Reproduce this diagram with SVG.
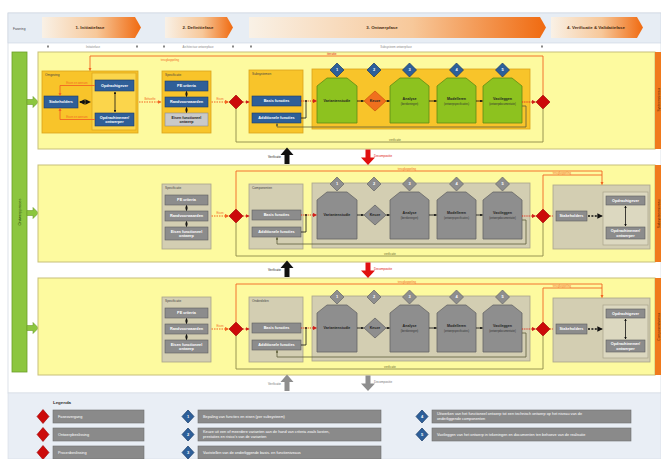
<svg xmlns="http://www.w3.org/2000/svg" width="661" height="459" viewBox="0 0 661 459">
<style>
text{font-family:"Liberation Sans",Arial,sans-serif}
.lane{fill:#fdfa9f;stroke:#c7c07a;stroke-width:1}
.obar{fill:#f07a1c}
.grp{fill:#f8c42a;stroke:#d9a31c;stroke-width:0.8}
.sub{fill:#fbd54b;stroke:#d9a31c;stroke-width:0.7}
.grpg{fill:#d3ceb2;stroke:#a9a48a;stroke-width:0.8}
.subg{fill:#dcd8c0;stroke:#a9a48a;stroke-width:0.7}
.blue{fill:#2f5f98;stroke:#1d3d6a;stroke-width:0.6}
.gbox{fill:#8c8c8c;stroke:#5e5e5e;stroke-width:0.6}
.lbox{fill:#c9c9c9;stroke:#8a8a8a;stroke-width:0.6}
.green{fill:#8dc21f;stroke:#5e8c14;stroke-width:0.8}
.gshape{fill:#8e8e8e;stroke:#666;stroke-width:0.8}
.bd{fill:#2d5f9a;stroke:#173a66;stroke-width:0.7}
.gd{fill:#8e8e8e;stroke:#666;stroke-width:0.7}
.od2{fill:#f0701e;stroke:#c8540c;stroke-width:0.7}
.rd{fill:#cc0a0a;stroke:#9a0000;stroke-width:0.6}
.tw{fill:#fff;font-size:3.8px;font-weight:bold;text-anchor:middle}
.tk{fill:#222;font-size:3.6px;font-weight:bold;text-anchor:middle}
.ts{fill:#333;font-size:2.6px;text-anchor:middle}
.tg{fill:#444;font-size:3.2px}
.tn{fill:#fff;font-size:4px;font-weight:bold;text-anchor:middle}
.to{fill:#f26522;font-size:2.8px;text-anchor:middle}
.tr{fill:#e02020;font-size:3.2px}
.ol{stroke:#f26522;fill:none;stroke-width:0.9}
.od{stroke:#f26522;stroke-dasharray:1.5 1;fill:none;stroke-width:1.2}
.rdot{stroke:#e02a1a;stroke-dasharray:1.2 1;stroke-width:1.2;fill:none}
.blk{stroke:#111;stroke-width:0.8;fill:none}
.bdash{stroke:#111;stroke-width:1.6;stroke-dasharray:2 1.4;fill:none}
.olv{stroke:#8c8a4a;stroke-width:0.9;fill:none}
.fb{stroke:#5e5e3a;stroke-width:0.8;fill:none}
.leg{fill:#8a8a8a;stroke:#6e6e6e;stroke-width:0.6}
.tl{fill:#fff;font-size:3.8px}
</style>
<defs>
<linearGradient id="phase" x1="0" x2="1" y1="0" y2="0">
<stop offset="0" stop-color="#f9f1e6"/>
<stop offset="0.55" stop-color="#f7c89a"/>
<stop offset="1" stop-color="#f06a10"/>
</linearGradient>
<marker id="ab" viewBox="0 0 6 6" refX="5" refY="3" markerWidth="3.5" markerHeight="3.5" orient="auto-start-reverse"><path d="M0,0 L6,3 L0,6 z" fill="#111"/></marker>
<marker id="ao" viewBox="0 0 6 6" refX="5" refY="3" markerWidth="3.5" markerHeight="3.5" orient="auto"><path d="M0,0 L6,3 L0,6 z" fill="#f26522"/></marker>
<marker id="ar" viewBox="0 0 6 6" refX="5" refY="3" markerWidth="3.5" markerHeight="3.5" orient="auto"><path d="M0,0 L6,3 L0,6 z" fill="#d0201a"/></marker>
<marker id="af" viewBox="0 0 6 6" refX="5" refY="3" markerWidth="3.5" markerHeight="3.5" orient="auto"><path d="M0,0 L6,3 L0,6 z" fill="#5e5e3a"/></marker>
</defs>

<!-- background frames -->
<rect x="8" y="13" width="653" height="380" fill="#ffffff" stroke="#d5dbe3" stroke-width="0.8"/>
<g id="header">
<rect x="8" y="13" width="653" height="30" fill="#e7edf4" stroke="#c9d3df" stroke-width="0.6"/>
<text x="13" y="29.5" class="tg" fill="#888">Fasering</text>
<g id="phase1"><path d="M42,17 H135 L141,27.5 L135,38 H42 Z" fill="url(#phase)"/><text x="90" y="29" fill="#4a2a10" font-size="4.4" font-weight="bold" text-anchor="middle">1. Initiatiefase</text></g>
<g id="phase2"><path d="M165,17 H227 L233,27.5 L227,38 H165 Z" fill="url(#phase)"/><text x="198" y="29" fill="#4a2a10" font-size="4.4" font-weight="bold" text-anchor="middle">2. Definitiefase</text></g>
<g id="phase3"><path d="M249,17 H540 L546,27.5 L540,38 H249 Z" fill="url(#phase)"/><text x="382" y="29" fill="#4a2a10" font-size="4.4" font-weight="bold" text-anchor="middle">3. Ontwerpfase</text></g>
<g id="phase4"><path d="M551,17 H637 L643,27.5 L637,38 H551 Z" fill="url(#phase)"/><text x="596" y="29" fill="#4a2a10" font-size="4.4" font-weight="bold" text-anchor="middle">4. Verificatie &amp; Validatiefase</text></g>
<g fill="#888">
<rect x="47" y="45.5" width="2" height="2"/><rect x="136" y="45.5" width="2" height="2"/>
<rect x="163" y="45.5" width="2" height="2"/><rect x="232" y="45.5" width="2" height="2"/>
<rect x="250" y="45.5" width="2" height="2"/><rect x="541" y="45.5" width="2" height="2"/>
</g>
<text x="93" y="47.5" fill="#888" font-size="2.8" text-anchor="middle">Initiatiefase</text>
<text x="198" y="47.5" fill="#888" font-size="2.8" text-anchor="middle">Architectuur ontwerpfase</text>
<text x="396" y="47.5" fill="#888" font-size="2.8" text-anchor="middle">Subsysteem ontwerpfase</text>
</g>

<!-- green bar -->
<g id="procesbalk">
<rect x="12" y="52" width="15" height="320" fill="#8cc63f" stroke="#6c9e2a" stroke-width="0.8"/>
<text transform="translate(21.3,212) rotate(-90)" fill="#2d4a10" font-size="4" text-anchor="middle">Ontwerpproces</text>
<path d="M27,99.5 H33 V96.5 L38.5,102 L33,107.5 V104.5 H27 Z" fill="#8cc63f" stroke="#6c9e2a" stroke-width="0.6"/>
<path d="M27,210.5 H33 V207.5 L38.5,213 L33,218.5 V215.5 H27 Z" fill="#8cc63f" stroke="#6c9e2a" stroke-width="0.6"/>
<path d="M27,325.5 H33 V322.5 L38.5,328 L33,333.5 V330.5 H27 Z" fill="#8cc63f" stroke="#6c9e2a" stroke-width="0.6"/>
</g>

<!-- lanes -->
<g id="lane1"><rect class="lane" x="38" y="52" width="617" height="97"/><rect class="obar" x="655" y="52" width="8" height="97"/><text transform="translate(660,100) rotate(-90)" fill="#5a2a00" font-size="3.4" text-anchor="middle">Systeemniveau</text></g>
<g id="lane2"><rect class="lane" x="38" y="165" width="617" height="97"/><rect class="obar" x="655" y="165" width="8" height="97"/><text transform="translate(660,214) rotate(-90)" fill="#5a2a00" font-size="3.4" text-anchor="middle">Subsysteemniveau</text></g>
<g id="lane3"><rect class="lane" x="38" y="278" width="617" height="97"/><rect class="obar" x="655" y="278" width="8" height="97"/><text transform="translate(660,327) rotate(-90)" fill="#5a2a00" font-size="3.4" text-anchor="middle">Componentniveau</text></g>

<!-- ========== LANE 1 nodes ========== -->
<g id="l1-omgeving"><rect class="grp" x="42" y="71" width="96" height="62"/><text x="45" y="75.5" class="tg" font-size="2.8">Omgeving</text><rect class="sub" x="92" y="73" width="44" height="57"/></g>
<g id="l1-stakeholders"><rect class="blue" x="44" y="96" width="34" height="12"/><text x="61" y="103.4" class="tw">Stakeholders</text></g>
<g id="l1-opdrachtgever"><rect class="blue" x="95" y="80" width="39" height="11"/><text x="114.5" y="86.8" class="tw">Opdrachtgever</text></g>
<g id="l1-opdrachtnemer"><rect class="blue" x="95" y="113" width="39" height="13"/><text x="114.5" y="118.6" class="tw">Opdrachtnemer/</text><text x="114.5" y="123.4" class="tw">ontwerper</text></g>
<g id="l1-specificatie"><rect class="grp" x="162" y="71" width="49" height="62"/><text x="165" y="75.5" class="tg" font-size="2.8">Specificatie</text>
<rect class="blue" x="165" y="81" width="43" height="10"/><text x="186.5" y="87.3" class="tw">PE criteria</text>
<rect class="blue" x="165" y="97" width="43" height="10"/><text x="186.5" y="103.3" class="tw">Randvoorwaarden</text>
<rect class="lbox" x="165" y="113" width="43" height="13"/><text x="186.5" y="118.6" class="tk" font-weight="normal" font-size="3.2">Eisen functioneel</text><text x="186.5" y="123.2" class="tk" font-weight="normal" font-size="3.2">ontwerp</text></g>
<g id="l1-beslis1"><path class="rd" d="M236,95 L243,102 L236,109 L229,102 Z"/></g>
<g id="l1-ontwerp"><rect class="grp" x="249" y="70" width="54" height="63"/><text x="252" y="74.5" class="tg" font-size="2.8">Subsystemen</text>
<rect class="blue" x="252" y="96" width="49" height="10"/><text x="276.5" y="102.3" class="tw">Basis functies</text>
<rect class="blue" x="252" y="113" width="49" height="10"/><text x="276.5" y="119.3" class="tw">Additionele functies</text></g>
<g id="l1-proces"><rect class="grp" x="312" y="69" width="218" height="60"/>
<path class="green" d="M317,86 L327,78 H347 L357,86 V123 H317 Z"/><text x="337" y="102.3" class="tk">Variantenstudie</text>
<path class="od2" d="M375,91 L386,101 L375,111 L364,101 Z"/><text x="375" y="102.2" class="tk" font-size="3">Keuze</text>
<path class="green" d="M390,86 L400,78 H419 L429,86 V123 H390 Z"/><text x="409.5" y="100" class="tk">Analyse</text><text x="409.5" y="104.5" class="ts">(berekeningen)</text>
<path class="green" d="M437,86 L447,78 H466 L476,86 V123 H437 Z"/><text x="456.5" y="100" class="tk">Modelleren</text><text x="456.5" y="104.5" class="ts">(ontwerpspecificaties)</text>
<path class="green" d="M483,86 L493,78 H512 L522,86 V123 H483 Z"/><text x="502.5" y="100" class="tk">Vastleggen</text><text x="502.5" y="104.5" class="ts">(ontwerpdocumentatie)</text>
<path class="bd" d="M337,63 L344,70 L337,77 L330,70 Z"/><text x="337" y="71.4" class="tn">1</text>
<path class="bd" d="M374,63 L381,70 L374,77 L367,70 Z"/><text x="374" y="71.4" class="tn">2</text>
<path class="bd" d="M409.5,63 L416.5,70 L409.5,77 L402.5,70 Z"/><text x="409.5" y="71.4" class="tn">3</text>
<path class="bd" d="M456.5,63 L463.5,70 L456.5,77 L449.5,70 Z"/><text x="456.5" y="71.4" class="tn">4</text>
<path class="bd" d="M502.5,63 L509.5,70 L502.5,77 L495.5,70 Z"/><text x="502.5" y="71.4" class="tn">5</text>
</g>
<g id="l1-beslis2"><path class="rd" d="M543,95 L550,102 L543,109 L536,102 Z"/></g>

<!-- ========== LANE 2 nodes ========== -->
<g transform="translate(0,114)">
<g id="l2-specificatie"><rect class="grpg" x="162" y="70" width="49" height="65"/><text x="165" y="74.5" class="tg" font-size="2.8">Specificatie</text>
<rect class="gbox" x="165" y="81" width="43" height="10"/><text x="186.5" y="87.3" class="tw">PE criteria</text>
<rect class="gbox" x="165" y="97" width="43" height="10"/><text x="186.5" y="103.3" class="tw">Randvoorwaarden</text>
<rect class="gbox" x="165" y="113" width="43" height="13"/><text x="186.5" y="118.6" class="tw" font-weight="normal" font-size="3.2">Eisen functioneel</text><text x="186.5" y="123.2" class="tw" font-weight="normal" font-size="3.2">ontwerp</text></g>
<g id="l2-beslis1"><path class="rd" d="M236,95 L243,102 L236,109 L229,102 Z"/></g>
<g id="l2-ontwerp"><rect class="grpg" x="249" y="70" width="54" height="65"/><text x="252" y="74.5" class="tg" font-size="2.8">Componenten</text>
<rect class="gbox" x="252" y="96" width="49" height="10"/><text x="276.5" y="102.3" class="tw">Basis functies</text>
<rect class="gbox" x="252" y="113" width="49" height="10"/><text x="276.5" y="119.3" class="tw">Additionele functies</text></g>
<g id="l2-proces"><rect class="grpg" x="312" y="69" width="218" height="65"/>
<path class="gshape" d="M317,86 L327,78 H347 L357,86 V125 H317 Z"/><text x="337" y="102.3" class="tk">Variantenstudie</text>
<path class="gshape" d="M375,91 L386,101 L375,111 L364,101 Z"/><text x="375" y="102.2" class="tk" font-size="3">Keuze</text>
<path class="gshape" d="M390,86 L400,78 H419 L429,86 V125 H390 Z"/><text x="409.5" y="100" class="tk">Analyse</text><text x="409.5" y="104.5" class="ts">(berekeningen)</text>
<path class="gshape" d="M437,86 L447,78 H466 L476,86 V125 H437 Z"/><text x="456.5" y="100" class="tk">Modelleren</text><text x="456.5" y="104.5" class="ts">(ontwerpspecificaties)</text>
<path class="gshape" d="M483,86 L493,78 H512 L522,86 V125 H483 Z"/><text x="502.5" y="100" class="tk">Vastleggen</text><text x="502.5" y="104.5" class="ts">(ontwerpdocumentatie)</text>
<path class="gd" d="M337,63 L344,70 L337,77 L330,70 Z"/><text x="337" y="71.4" class="tn">1</text>
<path class="gd" d="M374,63 L381,70 L374,77 L367,70 Z"/><text x="374" y="71.4" class="tn">2</text>
<path class="gd" d="M409.5,63 L416.5,70 L409.5,77 L402.5,70 Z"/><text x="409.5" y="71.4" class="tn">3</text>
<path class="gd" d="M456.5,63 L463.5,70 L456.5,77 L449.5,70 Z"/><text x="456.5" y="71.4" class="tn">4</text>
<path class="gd" d="M502.5,63 L509.5,70 L502.5,77 L495.5,70 Z"/><text x="502.5" y="71.4" class="tn">5</text>
</g>
<g id="l2-beslis2"><path class="rd" d="M543,95 L550,102 L543,109 L536,102 Z"/></g>
<g id="l2-omgeving"><rect class="grpg" x="553" y="71" width="97" height="64"/><rect class="subg" x="603" y="78" width="45" height="53"/></g>
<g id="l2-stakeholders"><rect class="gbox" x="556" y="97" width="31" height="10"/><text x="571.5" y="103.3" class="tw" font-size="3.4">Stakeholders</text></g>
<g id="l2-opdrachtgever"><rect class="gbox" x="606" y="82" width="39" height="9"/><text x="625.5" y="87.8" class="tw">Opdrachtgever</text></g>
<g id="l2-opdrachtnemer"><rect class="gbox" x="606" y="113" width="39" height="12"/><text x="625.5" y="118.2" class="tw">Opdrachtnemer/</text><text x="625.5" y="122.8" class="tw">ontwerper</text></g>
</g>

<!-- ========== LANE 3 nodes ========== -->
<g transform="translate(0,227)">
<g id="l3-specificatie"><rect class="grpg" x="162" y="70" width="49" height="65"/><text x="165" y="74.5" class="tg" font-size="2.8">Specificatie</text>
<rect class="gbox" x="165" y="81" width="43" height="10"/><text x="186.5" y="87.3" class="tw">PE criteria</text>
<rect class="gbox" x="165" y="97" width="43" height="10"/><text x="186.5" y="103.3" class="tw">Randvoorwaarden</text>
<rect class="gbox" x="165" y="113" width="43" height="13"/><text x="186.5" y="118.6" class="tw" font-weight="normal" font-size="3.2">Eisen functioneel</text><text x="186.5" y="123.2" class="tw" font-weight="normal" font-size="3.2">ontwerp</text></g>
<g id="l3-beslis1"><path class="rd" d="M236,95 L243,102 L236,109 L229,102 Z"/></g>
<g id="l3-ontwerp"><rect class="grpg" x="249" y="70" width="54" height="65"/><text x="252" y="74.5" class="tg" font-size="2.8">Onderdelen</text>
<rect class="gbox" x="252" y="96" width="49" height="10"/><text x="276.5" y="102.3" class="tw">Basis functies</text>
<rect class="gbox" x="252" y="113" width="49" height="10"/><text x="276.5" y="119.3" class="tw">Additionele functies</text></g>
<g id="l3-proces"><rect class="grpg" x="312" y="69" width="218" height="65"/>
<path class="gshape" d="M317,86 L327,78 H347 L357,86 V125 H317 Z"/><text x="337" y="102.3" class="tk">Variantenstudie</text>
<path class="gshape" d="M375,91 L386,101 L375,111 L364,101 Z"/><text x="375" y="102.2" class="tk" font-size="3">Keuze</text>
<path class="gshape" d="M390,86 L400,78 H419 L429,86 V125 H390 Z"/><text x="409.5" y="100" class="tk">Analyse</text><text x="409.5" y="104.5" class="ts">(berekeningen)</text>
<path class="gshape" d="M437,86 L447,78 H466 L476,86 V125 H437 Z"/><text x="456.5" y="100" class="tk">Modelleren</text><text x="456.5" y="104.5" class="ts">(ontwerpspecificaties)</text>
<path class="gshape" d="M483,86 L493,78 H512 L522,86 V125 H483 Z"/><text x="502.5" y="100" class="tk">Vastleggen</text><text x="502.5" y="104.5" class="ts">(ontwerpdocumentatie)</text>
<path class="gd" d="M337,63 L344,70 L337,77 L330,70 Z"/><text x="337" y="71.4" class="tn">1</text>
<path class="gd" d="M374,63 L381,70 L374,77 L367,70 Z"/><text x="374" y="71.4" class="tn">2</text>
<path class="gd" d="M409.5,63 L416.5,70 L409.5,77 L402.5,70 Z"/><text x="409.5" y="71.4" class="tn">3</text>
<path class="gd" d="M456.5,63 L463.5,70 L456.5,77 L449.5,70 Z"/><text x="456.5" y="71.4" class="tn">4</text>
<path class="gd" d="M502.5,63 L509.5,70 L502.5,77 L495.5,70 Z"/><text x="502.5" y="71.4" class="tn">5</text>
</g>
<g id="l3-beslis2"><path class="rd" d="M543,95 L550,102 L543,109 L536,102 Z"/></g>
<g id="l3-omgeving"><rect class="grpg" x="553" y="71" width="97" height="64"/><rect class="subg" x="603" y="78" width="45" height="53"/></g>
<g id="l3-stakeholders"><rect class="gbox" x="556" y="97" width="31" height="10"/><text x="571.5" y="103.3" class="tw" font-size="3.4">Stakeholders</text></g>
<g id="l3-opdrachtgever"><rect class="gbox" x="606" y="82" width="39" height="9"/><text x="625.5" y="87.8" class="tw">Opdrachtgever</text></g>
<g id="l3-opdrachtnemer"><rect class="gbox" x="606" y="113" width="39" height="12"/><text x="625.5" y="118.2" class="tw">Opdrachtnemer/</text><text x="625.5" y="122.8" class="tw">ontwerper</text></g>
</g>

<!-- ========== connectors ========== -->
<g id="connectors">
<!-- lane 1 -->
<path class="bdash" d="M80,102 H90" marker-start="url(#ab)" marker-end="url(#ab)"/>
<path class="blk" d="M115,92 V112" marker-start="url(#ab)" marker-end="url(#ab)"/>
<path class="ol" d="M95,85.5 H60 V95.5" marker-end="url(#ao)"/>
<text x="77" y="84.3" class="to">Eisen en wensen</text>
<path class="ol" d="M95,119.5 H60 V108.5" marker-end="url(#ao)"/>
<text x="77" y="118.3" class="to">Eisen en wensen</text>
<path class="od" d="M139,102 H161" marker-end="url(#ao)"/>
<text x="150" y="99.6" class="to">Behoefte</text>
<path class="blk" d="M186.5,91.5 V96.5" marker-start="url(#ab)" marker-end="url(#ab)"/>
<path class="blk" d="M186.5,107.5 V112.5" marker-start="url(#ab)" marker-end="url(#ab)"/>
<path class="od" d="M211.5,102 H228.5" marker-end="url(#ao)"/>
<text x="220" y="99.6" class="to">Eisen</text>
<path class="rdot" d="M243,102 H249" marker-end="url(#ar)"/>
<path class="rdot" d="M301,101 H316.5" marker-end="url(#ar)"/>
<circle cx="306" cy="101" r="0.9" fill="#111"/>
<path class="blk" d="M301,118 H306 V101.5"/>
<path class="blk" d="M357,101 H363.5" marker-end="url(#ab)"/>
<path class="blk" d="M386,101 H389.5" marker-end="url(#ab)"/>
<path class="blk" d="M429,101 H436.5" marker-end="url(#ab)"/>
<path class="blk" d="M476,101 H482.5" marker-end="url(#ab)"/>
<path class="rdot" d="M522,102 H535.5" marker-end="url(#ar)"/>
<path class="fb" d="M522,106 H526 V127 H277 V123.5" marker-end="url(#af)"/>
<path class="ol" d="M543,95 V56 H90 V70.5" marker-end="url(#ao)"/>
<text x="170" y="61" class="to">terugkoppeling</text>
<text x="327" y="54.6" class="tr" font-size="2.8">iteratie</text>
<path class="olv" d="M236,109 V142 H543 V109"/>
<text x="395" y="140.8" fill="#6e6c30" font-size="2.8" text-anchor="middle">verificatie</text>

<!-- lane 2 -->
<g transform="translate(0,114)">
<path class="blk" d="M186.5,91.5 V96.5" marker-start="url(#ab)" marker-end="url(#ab)"/>
<path class="blk" d="M186.5,107.5 V112.5" marker-start="url(#ab)" marker-end="url(#ab)"/>
<path class="od" d="M211.5,102 H228.5" marker-end="url(#ao)"/>
<text x="220" y="99.6" class="to">Eisen</text>
<path class="rdot" d="M243,102 H249" marker-end="url(#ar)"/>
<path class="rdot" d="M301,101 H316.5" marker-end="url(#ar)"/>
<circle cx="306" cy="101" r="0.9" fill="#111"/>
<path class="blk" d="M301,118 H306 V101.5"/>
<path class="blk" d="M357,101 H363.5" marker-end="url(#ab)"/>
<path class="blk" d="M386,101 H389.5" marker-end="url(#ab)"/>
<path class="blk" d="M429,101 H436.5" marker-end="url(#ab)"/>
<path class="blk" d="M476,101 H482.5" marker-end="url(#ab)"/>
<path class="rdot" d="M522,102 H535.5" marker-end="url(#ar)"/>
<path class="fb" d="M522,106 H526 V130 H277 V123.5" marker-end="url(#af)"/>
<path class="rdot" d="M550,102 H553"/>
<path class="bdash" d="M588,102 H602" marker-end="url(#ab)"/>
<path class="blk" d="M625.5,92 V112" marker-start="url(#ab)" marker-end="url(#ab)"/>
<path class="ol" d="M236,95 V57 H602 V70.5" marker-end="url(#ao)"/>
<text x="407" y="55.6" class="to">terugkoppeling</text>
<path class="ol" d="M543,95 V61 H602"/>
<text x="562" y="59.6" class="to">terugkoppeling</text>
<path class="olv" d="M236,109 V142 H543 V109"/>
<text x="390" y="140.8" fill="#6e6c30" font-size="2.8" text-anchor="middle">verificatie</text>
</g>

<!-- lane 3 -->
<g transform="translate(0,227)">
<path class="blk" d="M186.5,91.5 V96.5" marker-start="url(#ab)" marker-end="url(#ab)"/>
<path class="blk" d="M186.5,107.5 V112.5" marker-start="url(#ab)" marker-end="url(#ab)"/>
<path class="od" d="M211.5,102 H228.5" marker-end="url(#ao)"/>
<text x="220" y="99.6" class="to">Eisen</text>
<path class="rdot" d="M243,102 H249" marker-end="url(#ar)"/>
<path class="rdot" d="M301,101 H316.5" marker-end="url(#ar)"/>
<circle cx="306" cy="101" r="0.9" fill="#111"/>
<path class="blk" d="M301,118 H306 V101.5"/>
<path class="blk" d="M357,101 H363.5" marker-end="url(#ab)"/>
<path class="blk" d="M386,101 H389.5" marker-end="url(#ab)"/>
<path class="blk" d="M429,101 H436.5" marker-end="url(#ab)"/>
<path class="blk" d="M476,101 H482.5" marker-end="url(#ab)"/>
<path class="rdot" d="M522,102 H535.5" marker-end="url(#ar)"/>
<path class="fb" d="M522,106 H526 V130 H277 V123.5" marker-end="url(#af)"/>
<path class="rdot" d="M550,102 H553"/>
<path class="bdash" d="M588,102 H602" marker-end="url(#ab)"/>
<path class="blk" d="M625.5,92 V112" marker-start="url(#ab)" marker-end="url(#ab)"/>
<path class="ol" d="M236,95 V57 H602 V70.5" marker-end="url(#ao)"/>
<text x="407" y="55.6" class="to">terugkoppeling</text>
<path class="ol" d="M543,95 V61 H602"/>
<text x="562" y="59.6" class="to">terugkoppeling</text>
<path class="olv" d="M236,109 V142 H543 V109"/>
<text x="390" y="140.8" fill="#6e6c30" font-size="2.8" text-anchor="middle">verificatie</text>
</g>

<!-- between-lane arrows -->
<path d="M284.5,164 V155 H280.5 L287,147.5 L293.5,155 H289.5 V164 Z" fill="#111"/>
<text x="281" y="158" fill="#222" font-size="3" text-anchor="end">Verificatie</text>
<path d="M365.5,149.5 V157.5 H361 L368,165 L375,157.5 H370.5 V149.5 Z" fill="#e01010"/>
<text x="374" y="157" fill="#e01010" font-size="3">Decompositie</text>
<path d="M284.5,277 V268 H280.5 L287,260.5 L293.5,268 H289.5 V277 Z" fill="#111"/>
<text x="281" y="271" fill="#222" font-size="3" text-anchor="end">Verificatie</text>
<path d="M365.5,262.5 V270.5 H361 L368,278 L375,270.5 H370.5 V262.5 Z" fill="#e01010"/>
<text x="374" y="270" fill="#e01010" font-size="3">Decompositie</text>
<path d="M284.5,391 V382 H280.5 L287,374.5 L293.5,382 H289.5 V391 Z" fill="#8e8e8e"/>
<text x="281" y="385" fill="#777" font-size="3" text-anchor="end">Verificatie</text>
<path d="M365.5,375.5 V383.5 H361 L368,391 L375,383.5 H370.5 V375.5 Z" fill="#8e8e8e"/>
<text x="374" y="383" fill="#777" font-size="3">Decompositie</text>
</g>

<!-- legend -->
<g id="legenda">
<rect x="8" y="393" width="653" height="66" fill="#e9eef5" stroke="#d5dbe3" stroke-width="0.6"/>
<text x="53" y="404" fill="#333" font-size="4.4" font-weight="bold">Legenda</text>
<g id="leg-r1"><path class="rd" d="M43,409.5 L49,416.5 L43,423.5 L37,416.5 Z"/><rect class="leg" x="53" y="410" width="91" height="13"/><text x="58" y="417.8" class="tl">Faseovergang</text></g>
<g id="leg-r2"><path class="rd" d="M43,427.5 L49,434.5 L43,441.5 L37,434.5 Z"/><rect class="leg" x="53" y="428" width="91" height="13"/><text x="58" y="435.8" class="tl">Ontwerpbeslissing</text></g>
<g id="leg-r3"><path class="rd" d="M43,445.5 L49,452.5 L43,459.5 L37,452.5 Z"/><rect class="leg" x="53" y="446" width="91" height="13"/><text x="58" y="453.8" class="tl">Procesbeslissing</text></g>
<g id="leg-b1"><path class="bd" d="M188,410 L194,416.5 L188,423 L182,416.5 Z"/><text x="188" y="418" class="tn">1</text><rect class="leg" x="198" y="410" width="183" height="13"/><text x="203" y="417.8" class="tl">Bepaling van functies en eisen (per subsysteem)</text></g>
<g id="leg-b2"><path class="bd" d="M188,428 L194,434.5 L188,441 L182,434.5 Z"/><text x="188" y="436" class="tn">2</text><rect class="leg" x="198" y="428" width="183" height="13"/><text x="203" y="433.4" class="tl">Keuze uit een of meerdere varianten aan de hand van criteria zoals kosten,</text><text x="203" y="438.4" class="tl">prestaties en risico's van de varianten</text></g>
<g id="leg-b3"><path class="bd" d="M188,446 L194,452.5 L188,459 L182,452.5 Z"/><text x="188" y="454" class="tn">3</text><rect class="leg" x="198" y="446" width="183" height="13"/><text x="203" y="453.8" class="tl">Vaststellen van de onderliggende basis- en functieniveaus</text></g>
<g id="leg-b4"><path class="bd" d="M422,410 L428,416.5 L422,423 L416,416.5 Z"/><text x="422" y="418" class="tn">4</text><rect class="leg" x="432" y="410" width="199" height="13"/><text x="437" y="415.4" class="tl">Uitwerken van het functioneel ontwerp tot een technisch ontwerp op het niveau van de</text><text x="437" y="420.4" class="tl">onderliggende componenten</text></g>
<g id="leg-b5"><path class="bd" d="M422,428 L428,434.5 L422,441 L416,434.5 Z"/><text x="422" y="436" class="tn">5</text><rect class="leg" x="432" y="428" width="199" height="13"/><text x="437" y="435.8" class="tl">Vastleggen van het ontwerp in tekeningen en documenten ten behoeve van de realisatie</text></g>
</g>
</svg>
